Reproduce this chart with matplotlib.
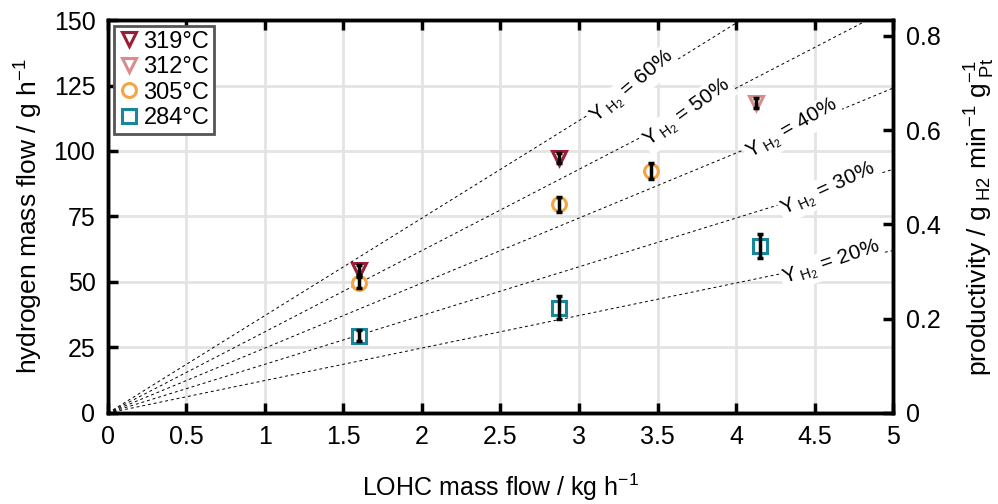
import matplotlib.pyplot as plt
import numpy as np

plt.rcParams['font.family'] = ['Liberation Sans', 'DejaVu Sans']
plt.rcParams['mathtext.fontset'] = 'custom'
plt.rcParams['mathtext.rm'] = 'Liberation Sans'
plt.rcParams['mathtext.it'] = 'Liberation Sans'

# measured data: LOHC mass flow (kg/h), hydrogen mass flow (g/h), error (g/h)
x_319 = [1.6, 2.87]
y_319 = [54.6, 97.3]
e_319 = [2.0, 2.0]

x_312 = [4.13]
y_312 = [118.3]
e_312 = [2.0]

x_305 = [1.6, 2.87, 3.46]
y_305 = [49.8, 79.6, 92.5]
e_305 = [2.0, 3.0, 3.0]

x_284 = [1.6, 2.87, 4.15]
y_284 = [29.5, 40.2, 63.8]
e_284 = [2.0, 4.5, 4.5]

# yield lines (hydrogen capacity 62 g H2 per kg LOHC)
h2_capacity = 62.0
yields = [60, 50, 40, 30, 20]
label_x = [3.34, 3.69, 4.36, 4.59, 4.61]
label_rot = [40, 36, 30, 25, 19]

pt_mass = 3.0  # g Pt

fig = plt.figure(figsize=(9.98, 5.04), dpi=100)
ax = fig.add_axes([0.1082, 0.1806, 0.7866, 0.7797])

xl = np.array([0, 5])
for Y, lx, rot in zip(yields, label_x, label_rot):
    s = h2_capacity * Y / 100
    ax.plot(xl, s * xl, color='black', lw=0.7, ls=(0, (3, 3)), zorder=2)
    ax.text(lx, s * lx, r'$Y_{\ H_2}$ = %d%%' % Y, rotation=rot, fontsize=15,
            ha='center', va='center', rotation_mode='anchor', zorder=3,
            bbox=dict(facecolor='white', edgecolor='none', pad=1.5))

series = [
    (x_319, y_319, e_319, 'v', '#9a1f36', '319°C'),
    (x_312, y_312, e_312, 'v', '#d98c8c', '312°C'),
    (x_305, y_305, e_305, 'o', '#f5a442', '305°C'),
    (x_284, y_284, e_284, 's', '#17889c', '284°C'),
]
for xs, ys, es, m, c, lab in series:
    ax.plot(xs, ys, ls='none', marker=m, ms=10, mfc='white', mec=c, mew=2.2,
            label=lab, zorder=4)
    ax.errorbar(xs, ys, yerr=es, fmt='none', ecolor='black', elinewidth=2.5,
                capsize=2.5, capthick=2.5, zorder=5)

ax.set_xlim(0, 5)
ax.set_ylim(0, 150)
ax.set_xticks(np.arange(0, 5.01, 0.5))
ax.set_xticklabels(['0', '0.5', '1', '1.5', '2', '2.5', '3', '3.5', '4', '4.5', '5'])
ax.set_yticks(np.arange(0, 151, 25))
ax.grid(True, color='#e3e3e3', lw=2)
ax.set_axisbelow(True)
ax.tick_params(direction='in', length=7, width=2.5, labelsize=18, top=True,
               right=False, pad=9)
for sp in ax.spines.values():
    sp.set_linewidth(2.5)
ax.set_xlabel('LOHC mass flow / kg h$^{-1}$', fontsize=18, labelpad=16)
ax.set_ylabel('hydrogen mass flow / g h$^{-1}$', fontsize=19, labelpad=6)

ax2 = ax.twinx()
ax2.set_ylim(0, 150 / 60 / pt_mass)
ax2.set_yticks([0, 0.2, 0.4, 0.6, 0.8])
ax2.set_yticklabels(['0', '0.2', '0.4', '0.6', '0.8'])
ax2.tick_params(direction='in', length=7, width=2.5, labelsize=18, pad=9)
for sp in ax2.spines.values():
    sp.set_linewidth(2.5)
ax2.set_ylabel(r'productivity / g$_{\ H2}$ min$^{-1}$ g$_{\ Pt}^{-1}$', fontsize=19,
               labelpad=16)

leg = ax.legend(loc='upper left', fontsize=17, handletextpad=0.15,
                handlelength=0.9, borderpad=0.2, labelspacing=0.15,
                fancybox=False, framealpha=1, borderaxespad=0.25)
leg.get_frame().set_edgecolor('#555555')
leg.get_frame().set_linewidth(2)

fig.savefig('out.png', dpi=100)
